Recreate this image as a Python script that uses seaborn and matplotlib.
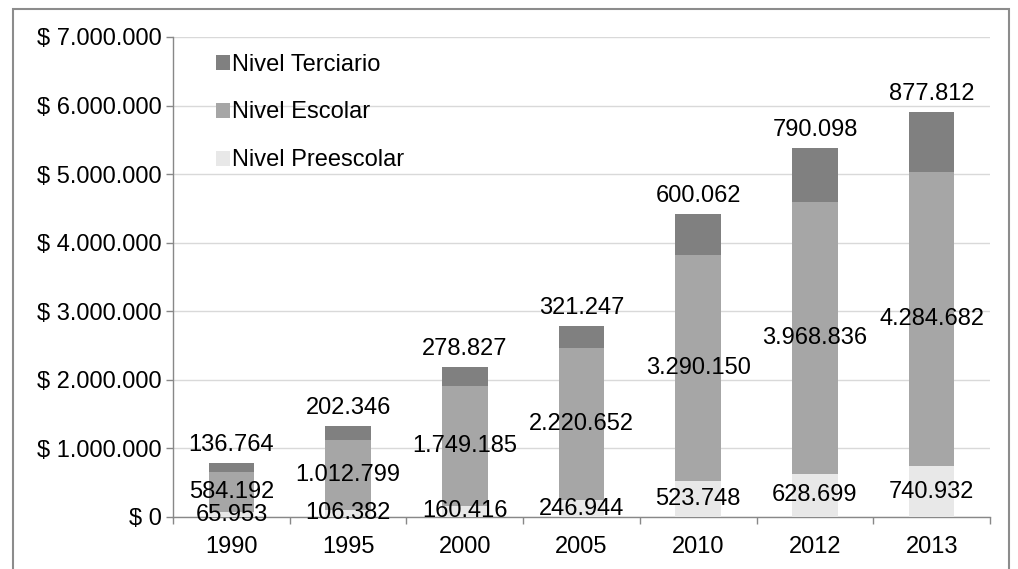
import matplotlib
matplotlib.use('Agg')
import matplotlib.pyplot as plt
import pandas as pd
import seaborn as sns
from matplotlib.patches import Rectangle

years = ['1990', '1995', '2000', '2005', '2010', '2012', '2013']
preescolar = [65953, 106382, 160416, 246944, 523748, 628699, 740932]
escolar = [584192, 1012799, 1749185, 2220652, 3290150, 3968836, 4284682]
terciario = [136764, 202346, 278827, 321247, 600062, 790098, 877812]
y_ticks = [0, 1000000, 2000000, 3000000, 4000000, 5000000, 6000000, 7000000]

c_terc = '#808080'
c_esc = '#a6a6a6'
c_pre = '#e8e8e8'


def fmt(v):
    return f'{v:,}'.replace(',', '.')


df = pd.DataFrame({'year': years,
                   'pre': preescolar,
                   'esc': escolar,
                   'terc': terciario})
df['esc_top'] = df['pre'] + df['esc']
df['total'] = df['esc_top'] + df['terc']

sns.set_style('white')
plt.rcParams['font.family'] = ['Liberation Sans', 'DejaVu Sans']
plt.rcParams['text.color'] = 'black'
plt.rcParams['xtick.color'] = 'black'
plt.rcParams['ytick.color'] = 'black'

fig = plt.figure(figsize=(10.18, 5.69), dpi=100)
ax = fig.add_axes([0.170, 0.0914, 0.8025, 0.8436])

# layered cumulative bars -> stacked look
bar_kw = dict(width=0.39, saturation=1, ax=ax, linewidth=0, zorder=3)
sns.barplot(data=df, x='year', y='total', color=c_terc,
            label='Nivel Terciario', **bar_kw)
sns.barplot(data=df, x='year', y='esc_top', color=c_esc,
            label='Nivel Escolar', **bar_kw)
sns.barplot(data=df, x='year', y='pre', color=c_pre,
            label='Nivel Preescolar', **bar_kw)

fs = 17
for i in range(len(years)):
    ax.text(i, df['pre'][i] / 2, fmt(preescolar[i]), ha='center',
            va='center', fontsize=fs, zorder=5)
    ax.text(i, df['pre'][i] + escolar[i] / 2, fmt(escolar[i]), ha='center',
            va='center', fontsize=fs, zorder=5)
    ax.annotate(fmt(terciario[i]), (i, df['total'][i]), xytext=(0, 5),
                textcoords='offset points', ha='center', va='bottom',
                fontsize=fs, zorder=5)

ax.set_ylim(0, 7000000)
ax.set_xlim(-0.5, len(years) - 0.5)
ax.set_yticks(y_ticks)
ax.set_yticklabels(['$ ' + fmt(v) for v in y_ticks], fontsize=fs)
ax.set_xticks(range(len(years)))
ax.set_xticklabels(years, fontsize=fs)
ax.set_xticks([i - 0.5 for i in range(len(years) + 1)], minor=True)
ax.tick_params(axis='x', which='major', length=0, pad=14)
ax.tick_params(axis='x', which='minor', length=5, width=1, color='#888888',
               direction='out', bottom=True)
ax.tick_params(axis='y', length=5, width=1, color='#888888',
               direction='out', left=True, pad=3)
ax.set_xlabel('')
ax.set_ylabel('')

ax.grid(axis='y', color='#d9d9d9', linewidth=1, zorder=0)
ax.set_axisbelow(True)
for s in ['top', 'right']:
    ax.spines[s].set_visible(False)
for s in ['left', 'bottom']:
    ax.spines[s].set_color('#888888')
    ax.spines[s].set_linewidth(1)

handles, labels = ax.get_legend_handles_labels()
ax.legend(handles, labels, loc='upper left', bbox_to_anchor=(0.032, 1.0),
          frameon=False, fontsize=fs, handlelength=0.6, handleheight=0.6,
          handletextpad=0.1, labelspacing=1.1, borderaxespad=0.3)

# outer chart frame
fig.patches.append(Rectangle((13 / 1018, -0.1), 996 / 1018, 1.1 - 9 / 569,
                             transform=fig.transFigure, fill=False,
                             edgecolor='#8c8c8c', linewidth=1.5))

fig.savefig('out.png', dpi=100)
